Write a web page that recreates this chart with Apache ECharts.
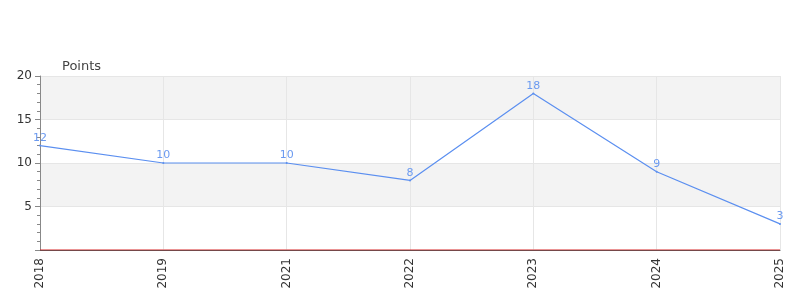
<!DOCTYPE html>
<html><head><meta charset="utf-8">
<script src="https://cdn.jsdelivr.net/npm/echarts@6/dist/echarts.min.js"></script>
<style>html,body{margin:0;padding:0;background:#fff}#c{width:800px;height:300px}</style>
</head><body><div id="c"></div>
<script>
const categories = ['2018','2019','2021','2022','2023','2024','2025'];
const points = [12,10,10,8,18,9,3];
const baseline = [0,0,0,0,0,0,0];
const yTicks = [0,5,10,15,20];

const chart = echarts.init(document.getElementById('c'), null, {renderer:'canvas'});
chart.setOption({
  animation:false,
  grid:{left:40,right:20,top:76,bottom:50,containLabel:false},
  xAxis:{type:'category',data:categories,boundaryGap:false,
    axisLine:{lineStyle:{color:'#555'}},
    axisTick:{show:false},
    splitLine:{show:true,lineStyle:{color:'#e6e6e6'}},
    axisLabel:{rotate:90,color:'#333',fontSize:12,fontFamily:'DejaVu Sans',margin:8}
  },
  yAxis:{type:'value',min:yTicks[0],max:yTicks[yTicks.length-1],interval:5,
    name:'Points',nameLocation:'end',nameGap:3,
    nameTextStyle:{align:'left',color:'#444',fontSize:13,fontFamily:'DejaVu Sans',padding:[0,0,0,22]},
    axisLine:{show:true,lineStyle:{color:'#888'}},
    axisTick:{show:true,length:5,lineStyle:{color:'#888'}},
    minorTick:{show:true,splitNumber:5,length:3,lineStyle:{color:'#888'}},
    splitLine:{show:true,lineStyle:{color:'#e6e6e6'}},
    splitArea:{show:true,areaStyle:{color:['#ffffff','#f3f3f3']}},
    axisLabel:{color:'#333',fontSize:12,fontFamily:'DejaVu Sans',showMinLabel:false,margin:8}
  },
  series:[
    {type:'line',data:baseline,symbol:'none',silent:true,
     lineStyle:{color:'#d62728',width:1},itemStyle:{color:'#d62728'},z:1},
    {type:'line',data:points,showSymbol:true,symbol:'circle',symbolSize:2,
     lineStyle:{color:'#5b8ff0',width:1.2},itemStyle:{color:'#5b8ff0'},
     label:{show:true,position:'top',color:'#6b9af0',fontSize:11,fontFamily:'DejaVu Sans',distance:1},z:3}
  ]
});
</script></body></html>
